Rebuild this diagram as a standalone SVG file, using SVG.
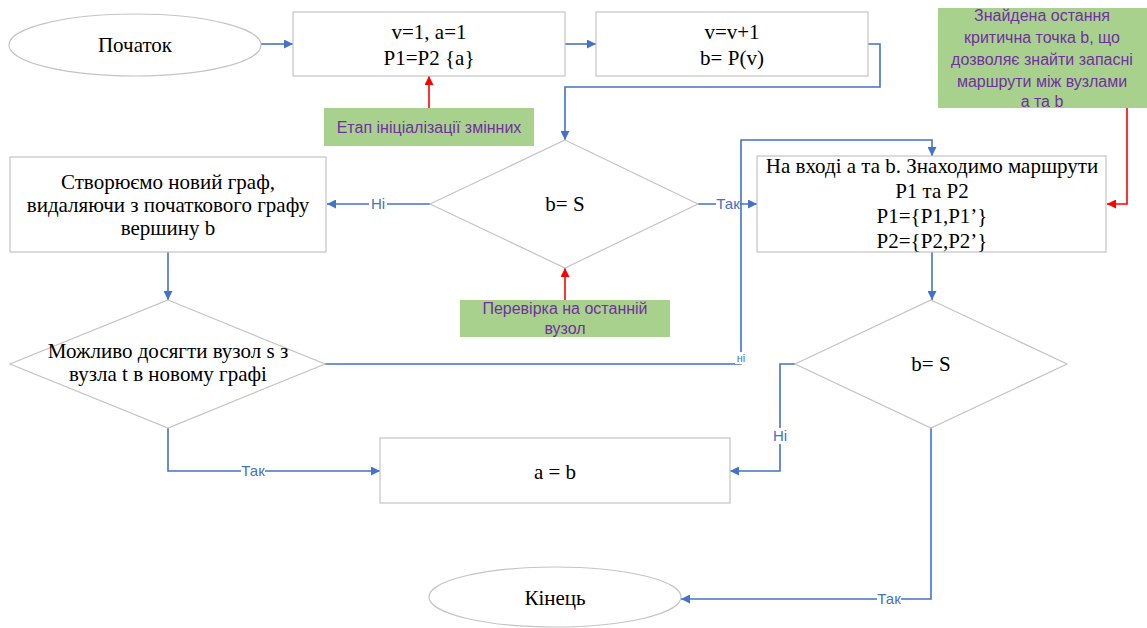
<svg xmlns="http://www.w3.org/2000/svg" width="1147" height="628" viewBox="0 0 1147 628">
<style>
.shape{fill:#fff;stroke:#c4c4c4;stroke-width:1.2}
.note{fill:#a9d18e;stroke:none}
.t{font-family:"Liberation Serif","Times New Roman",serif;font-size:21px;fill:#000;text-anchor:middle}
.n{font-family:"Liberation Sans",Arial,sans-serif;font-size:16px;fill:#7030a0;text-anchor:middle}
.b{fill:none;stroke:#4472c4;stroke-width:1.6}
.r{fill:none;stroke:#ff0000;stroke-width:1.6}
.lbl{font-family:"Liberation Sans",Arial,sans-serif;font-size:15px;fill:#4472c4;text-anchor:middle}
.bg{fill:#fff;stroke:none}
</style>
<defs>
<marker id="ab" viewBox="0 0 10 10" refX="10" refY="5" markerWidth="9" markerHeight="9" markerUnits="userSpaceOnUse" orient="auto"><path d="M0,0 L10,5 L0,10 z" fill="#4472c4"/></marker>
<marker id="ar" viewBox="0 0 10 10" refX="10" refY="5" markerWidth="9" markerHeight="9" markerUnits="userSpaceOnUse" orient="auto"><path d="M0,0 L10,5 L0,10 z" fill="#ff0000"/></marker>
</defs>

<g id="connectors">
<path class="b" d="M261,44 H293" marker-end="url(#ab)"/>
<path class="b" d="M565,44 H596" marker-end="url(#ab)"/>
<path class="b" d="M868,44 H880 V87 H565 V140" marker-end="url(#ab)"/>
<path class="r" d="M429,108 V76" marker-end="url(#ar)"/>
<path class="b" d="M430,204 H327" marker-end="url(#ab)"/>
<path class="b" d="M698,204 H757" marker-end="url(#ab)"/>
<path class="r" d="M565,300 V268" marker-end="url(#ar)"/>
<path class="r" d="M1127,108 V204 H1107" marker-end="url(#ar)"/>
<path class="b" d="M168,252 V300" marker-end="url(#ab)"/>
<path class="b" d="M325,364 H741 V140 H932 V156" marker-end="url(#ab)"/>
<path class="b" d="M932,252 V300" marker-end="url(#ab)"/>
<path class="b" d="M795,364 H780 V471 H730" marker-end="url(#ab)"/>
<path class="b" d="M168,428 V471 H380" marker-end="url(#ab)"/>
<path class="b" d="M931,428 V599 H681" marker-end="url(#ab)"/>
<rect class="bg" x="369" y="196" width="18" height="16"/>
<text class="lbl" x="378" y="209">Ні</text>
<rect class="bg" x="716" y="196" width="24" height="16"/>
<text class="lbl" x="728" y="209">Так</text>
<rect class="bg" x="735" y="352" width="12" height="12"/>
<text class="lbl" x="741" y="362" style="font-size:11px">ні</text>
<rect class="bg" x="771" y="428" width="18" height="16"/>
<text class="lbl" x="780" y="441">Ні</text>
<rect class="bg" x="241" y="463" width="24" height="16"/>
<text class="lbl" x="253" y="476">Так</text>
<rect class="bg" x="877" y="591" width="24" height="16"/>
<text class="lbl" x="889" y="604">Так</text>
</g>

<g id="start">
<ellipse class="shape" cx="135" cy="45" rx="126" ry="31"/>
<text class="t" x="135" y="52">Початок</text>
</g>

<g id="init">
<rect class="shape" x="293" y="12" width="272" height="64"/>
<text class="t" x="429" y="39">v=1, a=1</text>
<text class="t" x="429" y="65">P1=P2 {a}</text>
</g>

<g id="step">
<rect class="shape" x="596" y="12" width="272" height="64"/>
<text class="t" x="732" y="39">v=v+1</text>
<text class="t" x="732" y="65">b= P(v)</text>
</g>

<g id="note-init">
<rect class="note" x="324" y="108" width="210" height="38"/>
<text class="n" x="429" y="133">Етап ініціалізації змінних</text>
</g>

<g id="note-critical">
<rect class="note" x="938" y="8" width="209" height="100"/>
<text class="n" x="1042" y="21">Знайдена остання</text>
<text class="n" x="1042" y="43">критична точка b, що</text>
<text class="n" x="1042" y="65">дозволяє знайти запасні</text>
<text class="n" x="1042" y="87">маршрути між вузлами</text>
<text class="n" x="1042" y="107">а та b</text>
</g>

<g id="check1">
<polygon class="shape" points="565,140 698,204 565,268 430,204"/>
<text class="t" x="565" y="211">b= S</text>
</g>

<g id="note-check">
<rect class="note" x="460" y="300" width="210" height="37"/>
<text class="n" x="565" y="314">Перевірка на останній</text>
<text class="n" x="565" y="334">вузол</text>
</g>

<g id="newgraph">
<rect class="shape" x="10" y="157" width="316" height="95"/>
<text class="t" x="168" y="189">Створюємо новий граф,</text>
<text class="t" x="168" y="212">видаляючи з початкового графу</text>
<text class="t" x="168" y="235">вершину b</text>
</g>

<g id="routes">
<rect class="shape" x="757" y="156" width="349" height="96"/>
<text class="t" x="932" y="173">На вході а та b. Знаходимо маршрути</text>
<text class="t" x="932" y="198">P1 та P2</text>
<text class="t" x="932" y="223">P1={P1,P1’}</text>
<text class="t" x="932" y="248">P2={P2,P2’}</text>
</g>

<g id="reach">
<polygon class="shape" points="168,300 325,364 168,428 10,364"/>
<text class="t" x="168" y="358">Можливо досягти вузол s з</text>
<text class="t" x="168" y="381">вузла t в новому графі</text>
</g>

<g id="check2">
<polygon class="shape" points="931,300 1067,364 931,428 795,364"/>
<text class="t" x="931" y="371">b= S</text>
</g>

<g id="assign">
<rect class="shape" x="380" y="438" width="350" height="65"/>
<text class="t" x="555" y="479">a = b</text>
</g>

<g id="end">
<ellipse class="shape" cx="555" cy="597" rx="126" ry="30"/>
<text class="t" x="555" y="605">Кінець</text>
</g>
</svg>
